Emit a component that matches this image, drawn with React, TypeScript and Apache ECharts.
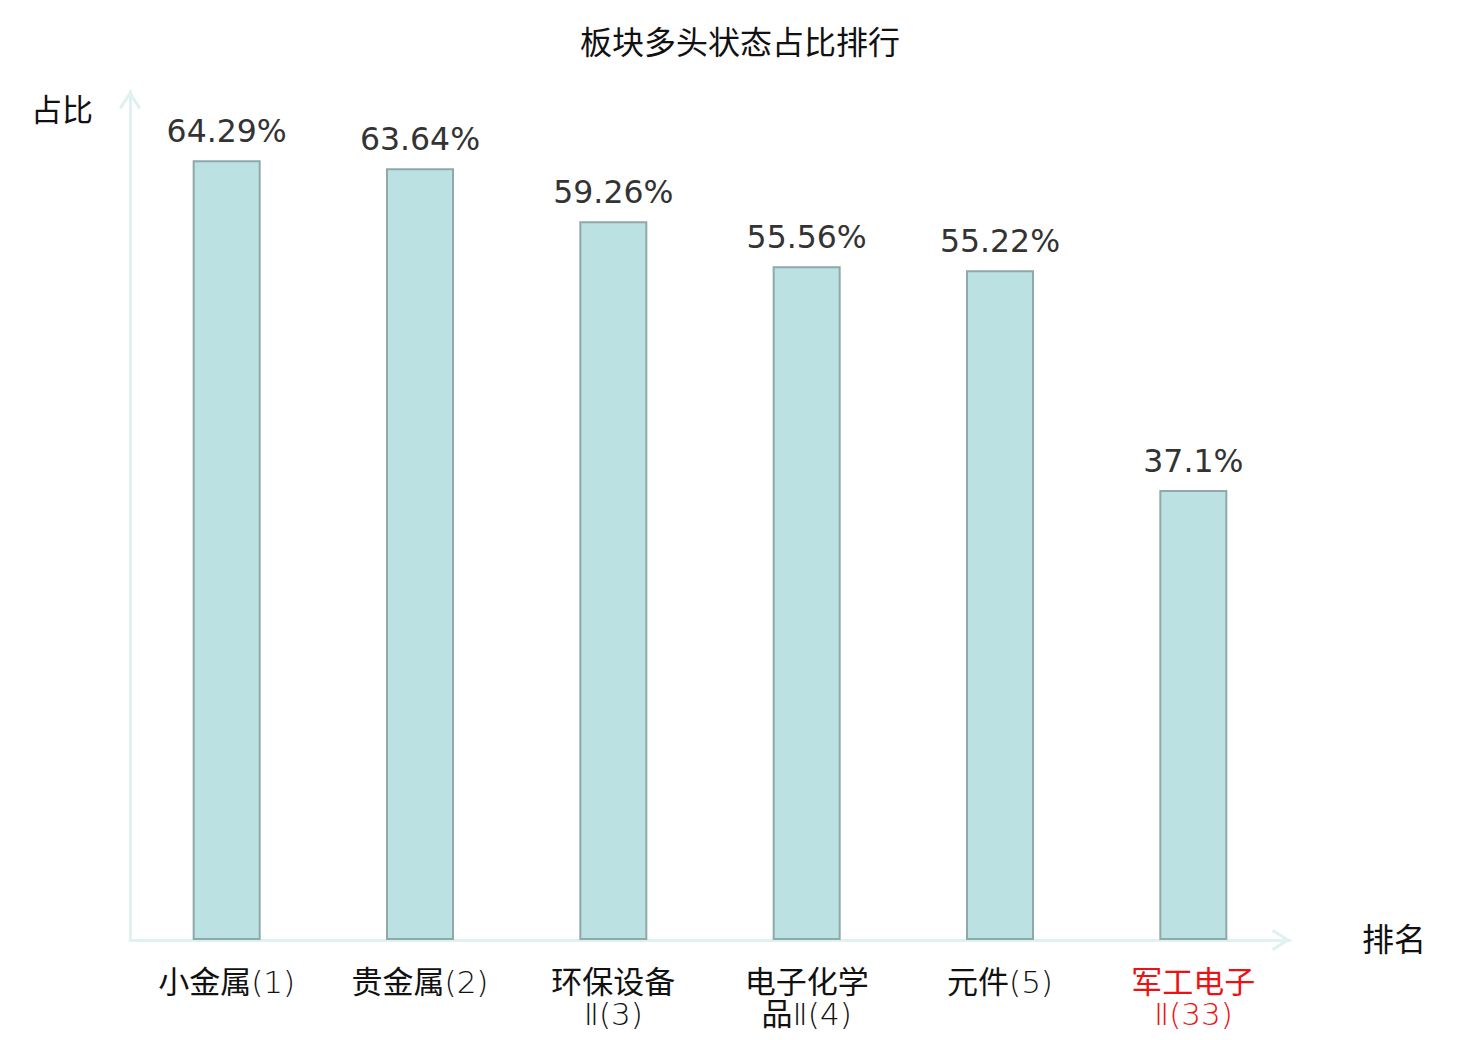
import React, { useEffect, useRef } from "react";
import * as echarts from "echarts";

const titleText = "板块多头状态占比排行";
const categories = ["小金属(1)", "贵金属(2)", "环保设备Ⅱ(3)", "电子化学品Ⅱ(4)", "元件(5)", "军工电子Ⅱ(33)"];
const values = [64.29, 63.64, 59.26, 55.56, 55.22, 37.1];
const highlightIndex = 5;
const yName = "占比";
const xName = "排名";

const FONT = "'DejaVu Sans', 'Noto Sans CJK SC', sans-serif";
const AXIS_COLOR = "#dff2ef";
const CHEVRON = "path://M0,17 L11,0 L22,17 L19.5,19 L11,5.5 L2.5,19 Z";
const BLACK = "#111";
const RED = "#ee1111";

const isCJK = (ch: string) => /[\u4e00-\u9fff]/.test(ch);

function richLabel(v: string, idx: number) {
  const text = v.length > 7 ? v.slice(0, 4) + "\n" + v.slice(4) : v;
  const suffix = idx === highlightIndex ? "R" : "";
  return text
    .split("\n")
    .map((line) => {
      let out = "";
      let run = "";
      let runType = "";
      for (const ch of line) {
        const t = isCJK(ch) ? "c" : "l";
        if (t !== runType && run) {
          out += `{${runType}${suffix}|${run}}`;
          run = "";
        }
        runType = t;
        run += ch;
      }
      if (run) out += `{${runType}${suffix}|${run}}`;
      return out;
    })
    .join("\n");
}

export default function App() {
  const ref = useRef<HTMLDivElement>(null);
  useEffect(() => {
    if (!ref.current) return;
    const chart = echarts.init(ref.current, null, { renderer: "svg" });
    const base = { fontFamily: FONT, fontSize: 31, lineHeight: 32 };
    chart.setOption({
      animation: false,
      backgroundColor: "#ffffff",
      title: {
        text: titleText,
        left: "center",
        top: 22,
        textStyle: { fontFamily: FONT, fontSize: 32, fontWeight: "normal", color: BLACK },
      },
      grid: { left: 130, right: 190, top: 91, bottom: 100, containLabel: false },
      xAxis: {
        type: "category",
        data: categories,
        name: xName,
        nameLocation: "end",
        nameGap: 72,
        nameTextStyle: { fontFamily: FONT, fontSize: 32, color: BLACK, align: "left", verticalAlign: "middle", padding: [4, 0, 0, 0] },
        axisLine: {
          show: true,
          lineStyle: { color: AXIS_COLOR, width: 3 },
          symbol: ["none", CHEVRON],
          symbolSize: [22, 19],
          symbolOffset: [0, -9],
        },
        axisTick: { show: false },
        axisLabel: {
          interval: 0,
          margin: 26,
          fontFamily: FONT,
          fontSize: 31,
          lineHeight: 32,
          color: BLACK,
          formatter: (v: string, i: number) => richLabel(v, i),
          rich: {
            c: { ...base, fontWeight: "normal", color: BLACK },
            l: { ...base, fontWeight: 200, color: BLACK },
            cR: { ...base, fontWeight: "normal", color: RED },
            lR: { ...base, fontWeight: 200, color: RED },
          },
        },
        splitLine: { show: false },
      },
      yAxis: {
        type: "value",
        min: 0,
        max: 70,
        name: yName,
        nameLocation: "end",
        nameGap: -19,
        nameTextStyle: {
          fontFamily: FONT,
          fontSize: 31,
          color: BLACK,
          align: "right",
          verticalAlign: "middle",
          padding: [0, 37, 0, 0],
        },
        axisLine: {
          show: true,
          lineStyle: { color: AXIS_COLOR, width: 3 },
          symbol: ["none", CHEVRON],
          symbolSize: [22, 19],
          symbolOffset: [0, -9],
        },
        axisTick: { show: false },
        axisLabel: { show: false },
        splitLine: { show: false },
      },
      series: [
        {
          type: "bar",
          data: values,
          barWidth: 68,
          itemStyle: { color: "#bce1e3", borderColor: "#8fa8a9", borderWidth: 2 },
          label: {
            show: true,
            position: "top",
            distance: 14,
            fontFamily: FONT,
            fontSize: 31.5,
            lineHeight: 31,
            color: "#333",
            formatter: (p: any) => p.value + "%",
          },
        },
      ],
    });
    return () => chart.dispose();
  }, []);
  return <div ref={ref} style={{ position: "fixed", left: 0, top: 0, width: 1480, height: 1040 }} />;
}
